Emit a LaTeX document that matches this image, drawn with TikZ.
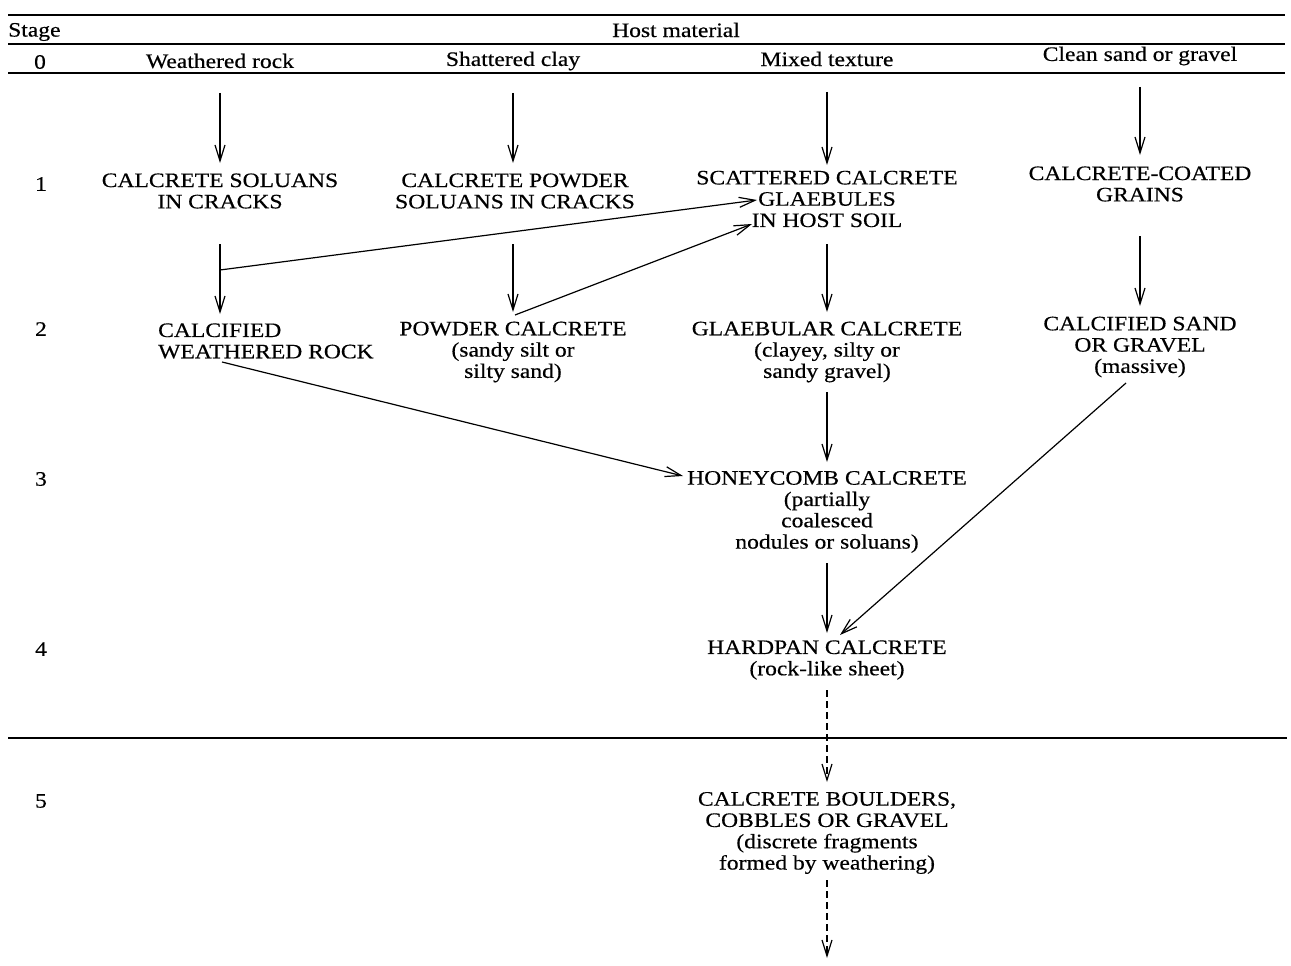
\documentclass[tikz,border=0pt]{standalone}
\usepackage{fontspec}
\setmainfont{Liberation Serif}[FakeStretch=1.15,FakeBold=0.4]
\usetikzlibrary{arrows.meta}
\newcommand\fsz{\fontsize{20.5}{21.3}\selectfont}
\begin{document}
\begin{tikzpicture}[x=1pt,y=-1pt,
  txt/.style={font=\fsz, align=center, inner sep=0pt},
  arr/.style={-{Straight Barb[length=16pt,width=10pt]}, line width=1.2pt},
  darr/.style={arr, dash pattern=on 7pt off 4pt},
  rule/.style={line width=1.5pt}]
\useasboundingbox (0,0) rectangle (1291,966);

% header
\node[txt, anchor=west] (stage) at (8,32) {Stage};
\node[txt] (host) at (676,30) {Host material};
\node[txt] (s0) at (40,62) {0};
\node[txt] (h1) at (220,61) {Weathered rock};
\node[txt] (h2) at (513,61) {Shattered clay};
\node[txt] (h3) at (827,59) {Mixed texture};
\node[txt] (h4) at (1140,56) {Clean sand or gravel};
\draw[rule] (8,15) -- (1285,15);
\draw[rule] (8,44) -- (1285,44);
\draw[rule] (8,73) -- (1285,73);
\draw[rule] (8,738) -- (1287,738);

% stage numbers
\node[txt] (s1) at (41,184) {1};
\node[txt] (s2) at (41,329) {2};
\node[txt] (s3) at (41,479) {3};
\node[txt] (s4) at (41,649) {4};
\node[txt] (s5) at (41,801) {5};

% stage 1
\node[txt] (A1) at (220,191) {CALCRETE SOLUANS\\IN CRACKS};
\node[txt] (B1) at (515,191) {CALCRETE POWDER\\SOLUANS IN CRACKS};
\node[txt] (C1) at (827,199) {SCATTERED CALCRETE\\GLAEBULES\\IN HOST SOIL};
\node[txt] (D1) at (1140,184) {CALCRETE-COATED\\GRAINS};

% stage 2
\node[txt, align=left, anchor=west] (A2) at (158,341) {CALCIFIED\\WEATHERED ROCK};
\node[txt] (B2) at (513,352) {POWDER CALCRETE\\(sandy silt or\\silty sand)};
\node[txt] (C2) at (827,352) {GLAEBULAR CALCRETE\\(clayey, silty or\\sandy gravel)};
\node[txt] (D2) at (1140,347) {CALCIFIED SAND\\OR GRAVEL\\(massive)};

% stages 3-5
\node[txt] (C3) at (827,512) {HONEYCOMB CALCRETE\\(partially\\coalesced\\nodules or soluans)};
\node[txt] (C4) at (827,660) {HARDPAN CALCRETE\\(rock-like sheet)};
\node[txt] (C5) at (827,833) {CALCRETE BOULDERS,\\COBBLES OR GRAVEL\\(discrete fragments\\formed by weathering)};
\coordinate (end) at (827,958);

% connectors
\draw[arr] (h1 |- 0,93) -- (A1 |- 0,163);
\draw[arr] (h2 |- 0,93) -- (h2 |- 0,163);
\draw[arr] (h3 |- 0,92) -- (C1 |- 0,165);
\draw[arr] (h4 |- 0,87) -- (D1 |- 0,155);

\draw[arr] (A1 |- 0,244) -- (A1 |- 0,314);
\draw[arr] (h2 |- 0,244) -- (h2 |- 0,312);
\draw[arr] (C1 |- 0,244) -- (C2 |- 0,312);
\draw[arr] (D1 |- 0,236) -- (D2 |- 0,306);

\coordinate (jA) at (220,270);
\coordinate (jB) at (515,315);
\coordinate (tC1a) at (757,200);
\coordinate (tC1b) at (752,224);
\draw[arr] (jA) -- (tC1a);
\draw[arr] (jB) -- (tC1b);

\coordinate (oA2) at (222,362);
\coordinate (tC3) at (683,476);
\draw[arr] (oA2) -- (tC3);
\draw[arr] (C2 |- 0,392) -- (C3 |- 0,462);
\draw[arr] (C3 |- 0,563) -- (C4 |- 0,633);
\coordinate (oD2) at (1126,383);
\coordinate (tC4) at (840,635);
\draw[arr] (oD2) -- (tC4);

\draw[darr] (C4 |- 0,690) -- (C5 |- 0,782);
\draw[darr] (C5 |- 0,880) -- (end);
\end{tikzpicture}
\end{document}
